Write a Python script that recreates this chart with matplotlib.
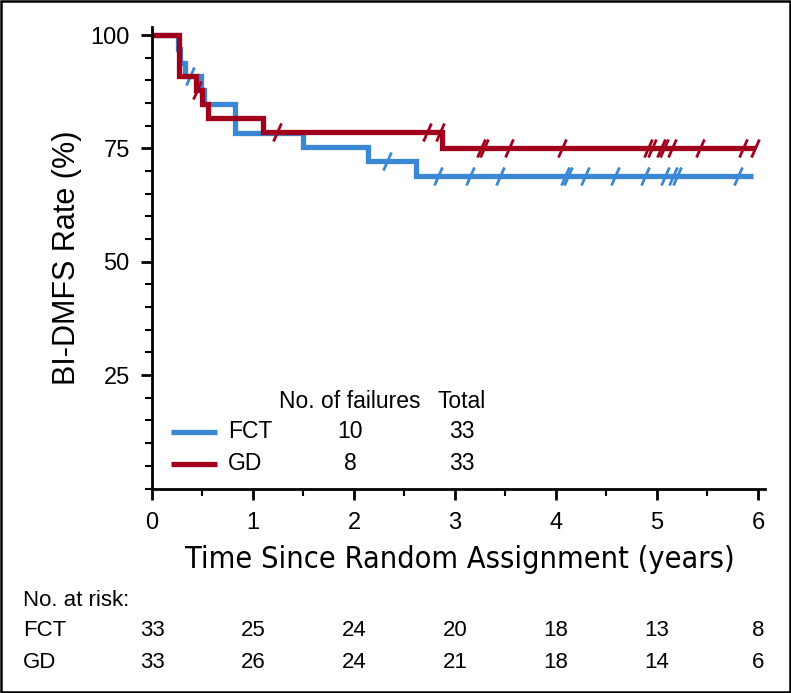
import numpy as np
import matplotlib
matplotlib.use('Agg')
import matplotlib.pyplot as plt
from matplotlib import font_manager as fm
from matplotlib.path import Path
from matplotlib.lines import Line2D
from matplotlib.patches import Rectangle
from matplotlib.ticker import MultipleLocator

# --- data ---
# step times (years) and BI-DMFS levels (%)
fct_times = [0, 0.26, 0.28, 0.33, 0.49, 0.51, 0.82, 1.50, 2.14, 2.61]
fct_surv = [100, 97.0, 93.9, 90.9, 87.9, 84.8, 78.5, 75.4, 72.3, 69.0]
fct_end = 5.95
fct_censor = [0.38, 2.33, 2.83, 3.15, 3.45, 4.09, 4.12, 4.29, 4.58, 4.88,
              5.08, 5.16, 5.20, 5.80]

gd_times = [0, 0.27, 0.44, 0.50, 0.55, 1.10, 2.87]
gd_surv = [100, 90.9, 87.9, 84.8, 81.8, 78.6, 75.0]
gd_end = 5.97
gd_censor = [0.45, 1.24, 2.72, 2.85, 3.26, 3.29, 3.54, 4.06, 4.91, 4.95,
             5.04, 5.07, 5.15, 5.43, 5.85, 5.97]

groups = ['FCT', 'GD']
failures = [10, 8]
totals = [33, 33]

risk_years = [0, 1, 2, 3, 4, 5, 6]
risk_fct = [33, 25, 24, 20, 18, 13, 8]
risk_gd = [33, 26, 24, 21, 18, 14, 6]

blue = '#3a87d3'
red = '#a1001d'

plt.rcParams['font.family'] = ['Liberation Sans', 'DejaVu Sans']

names = {f.name for f in fm.fontManager.ttflist}
if 'Liberation Sans Narrow' in names:
    narrow = dict(family='Liberation Sans Narrow', fontsize=26)
else:
    narrow = dict(family='DejaVu Sans', stretch='condensed', fontsize=22)

W, H = 791, 693
fig = plt.figure(figsize=(W / 100, H / 100), dpi=100)
ax = fig.add_axes([152 / W, 1 - 488.5 / H, 613 / W, 461.5 / H])


def level_at(t, times, surv):
    idx = np.searchsorted(times, t, side='right') - 1
    return np.asarray(surv)[idx]


slash = Path([(-0.22, -0.5), (0.22, 0.5)], [Path.MOVETO, Path.LINETO])

for times, surv, end, cens, col in [(fct_times, fct_surv, fct_end, fct_censor, blue),
                                    (gd_times, gd_surv, gd_end, gd_censor, red)]:
    ax.step(list(times) + [end], list(surv) + [surv[-1]], where='post',
            color=col, lw=3.8, solid_joinstyle='miter', solid_capstyle='butt',
            clip_on=False)
    cens = np.array(cens)
    ax.plot(cens, level_at(cens, times, surv), ls='none', marker=slash,
            ms=13, mew=2.0, color=col, mfc='none', clip_on=False)

ax.set_xlim(0, 6.07)
ax.set_ylim(0, 101.8)
ax.spines['top'].set_visible(False)
ax.spines['right'].set_visible(False)
for s in ['left', 'bottom']:
    ax.spines[s].set_linewidth(2)

ax.set_xticks(risk_years)
ax.xaxis.set_minor_locator(MultipleLocator(0.5))
ax.set_yticks([25, 50, 75, 100])
ax.yaxis.set_minor_locator(MultipleLocator(5))
ax.tick_params(which='major', length=8, width=2, direction='out')
ax.tick_params(which='minor', length=5, width=1.5, direction='out')
ax.tick_params(axis='y', labelsize=17, pad=8)
ax.tick_params(axis='x', labelsize=17, pad=9)

ax.set_ylabel('BI-DMFS Rate (%)', fontsize=22, labelpad=6)
fig.text(460 / W, 1 - 560 / H, 'Time Since Random Assignment (years)',
         ha='center', va='center', **narrow)

# legend block inside the plot
fig.text(350 / W, 1 - 401 / H, 'No. of failures', ha='center', va='center', fontsize=16.5)
fig.text(462 / W, 1 - 401 / H, 'Total', ha='center', va='center', fontsize=16.5)
for i, (g, col) in enumerate(zip(groups, [blue, red])):
    yy = 1 - (432 + 32 * i) / H
    fig.add_artist(Line2D([171 / W, 217 / W], [yy, yy], color=col, lw=3.8,
                          solid_capstyle='butt'))
    fig.text(228 / W, yy, g, ha='left', va='center', fontsize=16.5)
    fig.text(350 / W, yy, str(failures[i]), ha='center', va='center', fontsize=16.5)
    fig.text(462 / W, yy, str(totals[i]), ha='center', va='center', fontsize=16.5)

# numbers at risk
trans = matplotlib.transforms.blended_transform_factory(ax.transData, fig.transFigure)
fig.text(23 / W, 1 - 600 / H, 'No. at risk:', ha='left', va='center', fontsize=16)
for j, (lab, vals) in enumerate(zip(groups, [risk_fct, risk_gd])):
    yy = 1 - (631 + 31 * j) / H
    fig.text(23 / W, yy, lab, ha='left', va='center', fontsize=16)
    for x, v in zip(risk_years, vals):
        ax.text(x, yy, str(v), transform=trans, ha='center', va='center', fontsize=16)

fig.add_artist(Rectangle((1 / W, 1 / H), 1 - 2 / W, 1 - 2 / H, transform=fig.transFigure,
                         fill=False, lw=1.8, ec='black'))

fig.savefig('out.png', dpi=100)
